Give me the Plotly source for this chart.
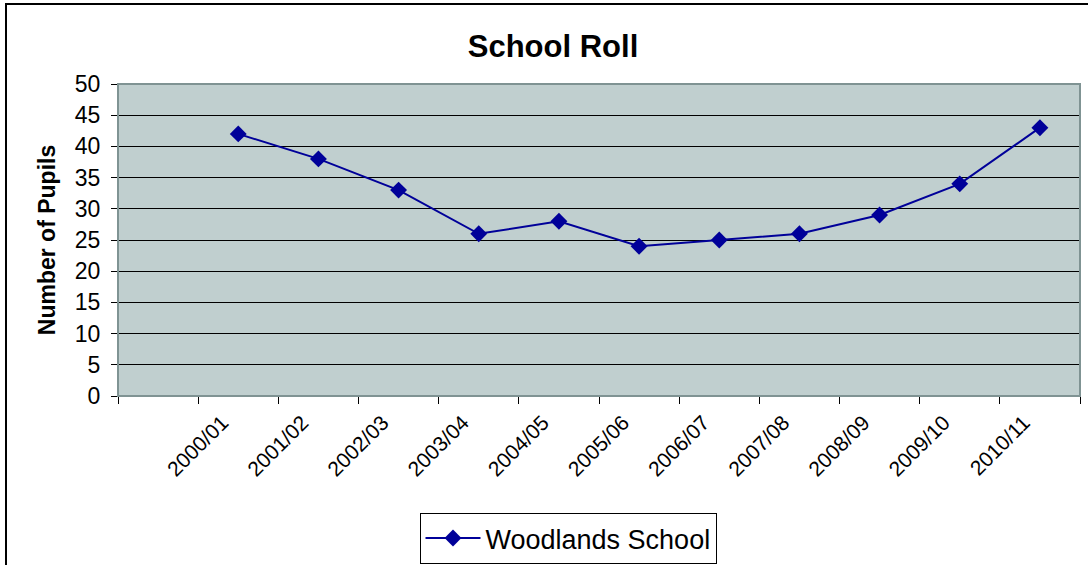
import plotly.graph_objects as go

years = ["2000/01", "2001/02", "2002/03", "2003/04", "2004/05", "2005/06",
         "2006/07", "2007/08", "2008/09", "2009/10", "2010/11"]
pupils = [42, 38, 33, 26, 28, 24, 25, 26, 29, 34, 43]
series_name = "Woodlands School"
categories = [" "] + years
y_ticks = list(range(0, 51, 5))

FONT = "Liberation Sans, Arial, sans-serif"
NAVY = "#000099"

fig = go.Figure()
fig.add_trace(go.Scatter(
    x=years, y=pupils, name=series_name, mode="lines+markers",
    line=dict(color=NAVY, width=2),
    marker=dict(symbol="diamond", size=13, color=NAVY),
    showlegend=True,
))

L, R, T, B = 118, 8, 84, 169
W, H = 1088, 565
pw, ph = W - L - R, H - T - B

fig.update_layout(
    width=W, height=H,
    margin=dict(l=L, r=R, t=T, b=B, pad=0, autoexpand=False),
    paper_bgcolor="white",
    plot_bgcolor="#C0CFCF",
    font=dict(family=FONT, color="black"),
    title=dict(text="<b>School Roll</b>", font=dict(size=31, family=FONT),
               x=(553 - L) / pw, xref="paper", xanchor="center",
               y=1 - 46 / H, yref="container", yanchor="middle"),
    xaxis=dict(
        type="category", categoryorder="array", categoryarray=categories,
        range=[-0.5, len(categories) - 0.5], automargin=False,
        tickson="boundaries", ticks="outside", ticklen=7, tickcolor="black",
        tickangle=-45, tickfont=dict(size=21), ticklabelshift=-16,
        ticklabelstandoff=5,
        showgrid=False, showline=True, linecolor="black", linewidth=1,
        mirror=False, zeroline=False,
    ),
    yaxis=dict(
        range=[0, 50], tickvals=y_ticks, ticks="outside", ticklen=6,
        automargin=False,
        tickcolor="black", tickfont=dict(size=23), ticklabelstandoff=6,
        showgrid=True, gridcolor="black", gridwidth=1,
        showline=True, linecolor="black", linewidth=1, zeroline=False,
        title=dict(text="<b>Number of Pupils</b>", font=dict(size=23), standoff=12),
    ),
    legend=dict(
        x=(568 - L) / pw, xanchor="center",
        y=1 - 513 / H, yref="container", yanchor="top",
        bordercolor="black", borderwidth=1, bgcolor="white",
        font=dict(size=27), itemwidth=55, orientation="h",
    ),
    shapes=[
        # plot area border (top and right)
        dict(type="rect", xref="paper", yref="paper", x0=0, x1=1, y0=0, y1=1,
             line=dict(color="#7F9393", width=2), layer="above"),
        # outer chart border
        dict(type="rect", xref="paper", yref="paper",
             x0=(6 - L) / pw, x1=(W + 20 - L) / pw,
             y0=-(H + 20 - (T + ph)) / ph, y1=1 + (T - 4) / ph,
             line=dict(color="black", width=2)),
    ],
)

fig.write_html("out.html")
